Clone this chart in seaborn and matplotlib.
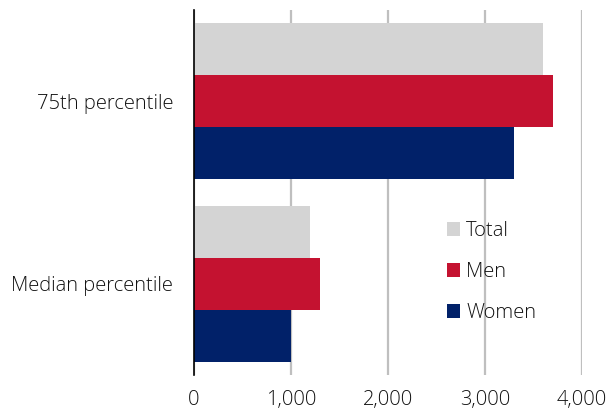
import matplotlib
matplotlib.use("Agg")
import matplotlib.pyplot as plt
import seaborn as sns
import pandas as pd
from matplotlib.ticker import FuncFormatter

categories = ["75th percentile", "Median percentile"]
series = ["Total", "Men", "Women"]
total_vals = [3600, 1200]
men_vals = [3700, 1300]
women_vals = [3300, 1000]
x_ticks = [0, 1000, 2000, 3000, 4000]
palette = ["#D4D4D4", "#C41230", "#012169"]

rows = []
for name, vals in zip(series, [total_vals, men_vals, women_vals]):
    for cat, v in zip(categories, vals):
        rows.append({"category": cat, "group": name, "value": v})
df = pd.DataFrame(rows)

sns.set_style("white")
plt.rcParams["font.family"] = ["Open Sans", "DejaVu Sans"]
plt.rcParams["font.weight"] = "light"
plt.rcParams["text.color"] = "#111111"

fig = plt.figure(figsize=(6.09, 4.17), dpi=100)
ax = fig.add_axes([0.3186, 0.1007, 0.6371, 0.8753])

sns.barplot(data=df, y="category", x="value", hue="group", order=categories,
            hue_order=series, palette=palette, orient="h", width=0.855,
            saturation=1, linewidth=0, ax=ax, zorder=3)

ax.set_xlim(0, 4000)
ax.set_xticks(x_ticks)
ax.xaxis.set_major_formatter(FuncFormatter(lambda v, p: f"{int(v):,}"))
ax.set_xlabel("")
ax.set_ylabel("")
ax.grid(axis="x", color="#BFBFBF", linewidth=1.6, zorder=0)
ax.grid(axis="y", visible=False)
for s in ["top", "right", "bottom"]:
    ax.spines[s].set_visible(False)
ax.spines["left"].set_color("black")
ax.spines["left"].set_linewidth(1.2)
ax.spines["left"].set_zorder(5)
ax.tick_params(axis="both", length=0, labelsize=14.5, colors="#111111")
ax.tick_params(axis="x", pad=11)
ax.tick_params(axis="y", pad=15)

ax.legend(loc="center left", bbox_to_anchor=(0.652, 0.282), frameon=False,
          prop={"size": 14.5, "weight": "light"}, handlelength=0.65,
          handleheight=0.65, handletextpad=0.3,
          labelspacing=1.05, borderpad=0, borderaxespad=0)

fig.savefig("out.png", dpi=100)
